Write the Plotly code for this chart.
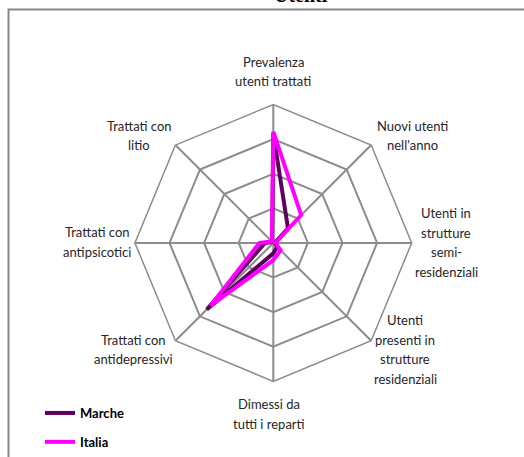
import plotly.graph_objects as go

# Indicator axes of the radar, clockwise from the top
categories = [
    "Prevalenza<br>utenti trattati",
    "Nuovi utenti<br>nell'anno",
    "Utenti in<br>strutture<br>semi-<br>residenziali",
    "Utenti<br>presenti in<br>strutture<br>residenziali",
    "Dimessi da<br>tutti i reparti",
    "Trattati con<br>antidepressivi",
    "Trattati con<br>antipsicotici",
    "Trattati con<br>litio",
]

marche = [158, 30, 2, 8, 15, 136, 12, 2]
italia = [161, 57, 3, 15, 25, 128, 20, 3]

W, H = 524, 457
cx, cy, rad = 273.3, 244.0, 139.0

# Centre of each axis label block (pixels from top-left), same order as categories
label_pos = [
    (273, 72), (412, 136), (446, 243.5), (405, 351),
    (269, 416), (133, 351), (97, 243), (139, 136),
]
LINE_STEP = 19.5

PURPLE = "#5f0060"
MAGENTA = "#ff00ff"
GRID = "#8c8c8c"
FONT = "Lato"


def closed(vals):
    return vals + vals[:1]


fig = go.Figure()
fig.add_trace(go.Scatterpolar(
    r=closed(marche), theta=closed(categories), name="Marche",
    mode="lines", line=dict(color=PURPLE, width=4),
    legendgroup="m",
))
fig.add_trace(go.Scatterpolar(
    r=closed(italia), theta=closed(categories), name="Italia",
    mode="lines", line=dict(color=MAGENTA, width=4),
    legendgroup="i",
))

# Axis labels, one annotation per text line for Excel-like line spacing
annotations = []
for cat, (lx, ly) in zip(categories, label_pos):
    lines = cat.split("<br>")
    n = len(lines)
    for k, txt in enumerate(lines):
        y_px = ly + (k - (n - 1) / 2) * LINE_STEP
        annotations.append(dict(
            text=txt, x=lx / W, y=1 - y_px / H, xref="paper", yref="paper",
            xanchor="center", yanchor="middle", showarrow=False,
            font=dict(family=FONT, size=13, color="#262626"),
        ))

annotations.append(dict(
    text="<b>Utenti</b>", x=301 / W, y=1 - 8 / H,
    xref="paper", yref="paper", xanchor="center", yanchor="bottom",
    showarrow=False,
    font=dict(family="Liberation Serif", size=20, color="black"),
))

fig.update_layout(
    width=W, height=H,
    margin=dict(l=0, r=0, t=0, b=0),
    paper_bgcolor="white",
    plot_bgcolor="white",
    font=dict(family=FONT, size=12, color="#262626"),
    polar=dict(
        domain=dict(x=[(cx - rad) / W, (cx + rad) / W],
                    y=[1 - (cy + rad) / H, 1 - (cy - rad) / H]),
        gridshape="linear",
        bgcolor="white",
        radialaxis=dict(range=[0, 200], dtick=50, showticklabels=False,
                        ticks="", showline=False, gridcolor=GRID,
                        gridwidth=1.5),
        angularaxis=dict(direction="clockwise", rotation=90,
                         categoryorder="array", categoryarray=categories,
                         gridcolor=GRID, gridwidth=1.5, showline=True,
                         linecolor=GRID, linewidth=1.5, ticks="",
                         showticklabels=False),
    ),
    showlegend=True,
    legend=dict(x=40 / W, y=1 - 400 / H, xanchor="left", yanchor="top",
                traceorder="grouped", tracegroupgap=9,
                bgcolor="rgba(0,0,0,0)",
                font=dict(family=FONT, size=13, color="black",
                          weight="bold")),
    annotations=annotations,
    shapes=[dict(
        type="rect", xref="paper", yref="paper",
        x0=8.5 / W, x1=1.05, y0=-0.05, y1=1 - 9.5 / H,
        line=dict(color="#868686", width=2), layer="below",
    )],
)

fig.write_html("out.html")
